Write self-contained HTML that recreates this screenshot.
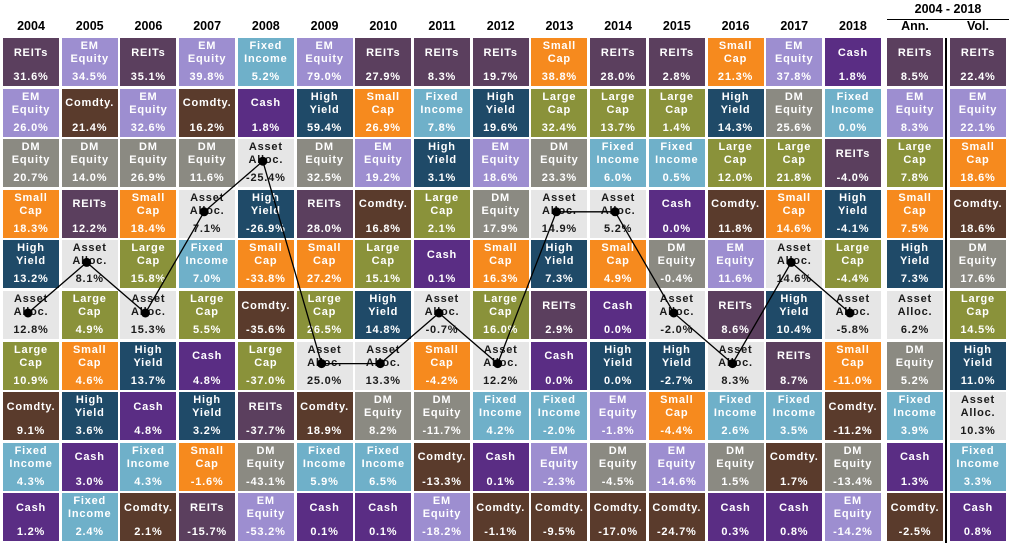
<!DOCTYPE html>
<html><head><meta charset="utf-8">
<style>
body{margin:0;background:#fff;}
#c{position:relative;width:1009px;height:543px;overflow:hidden;font-family:"Liberation Sans",Arial,sans-serif;}
.cell{position:absolute;width:56px;height:48px;color:#fff;font-weight:bold;font-size:11px;letter-spacing:0.8px;text-align:center;}
.cell .lab{position:absolute;left:0;right:0;top:0;height:30px;display:flex;align-items:center;justify-content:center;line-height:13px;}
.cell .val{position:absolute;left:0;right:0;top:33px;line-height:13px;}
.hdr{position:absolute;top:19px;width:56px;text-align:center;font-weight:bold;font-size:12.5px;color:#000;}
</style></head><body>
<div id="c">
<div style="position:absolute;left:887px;top:2px;width:122px;text-align:center;font-weight:bold;font-size:12.5px;">2004 - 2018</div>
<div style="position:absolute;left:887px;top:19px;width:122px;height:1px;background:#000;"></div>
<div style="position:absolute;left:945px;top:38px;width:2px;height:505px;background:#000;"></div>
<svg id="lines" width="1009" height="543" style="position:absolute;left:0;top:0;z-index:2;pointer-events:none"></svg>
</div>
<script>
const years=["2004","2005","2006","2007","2008","2009","2010","2011","2012","2013","2014","2015","2016","2017","2018"];
const colOrder=[
["REITs","EM","DM","Small","HY","AA","Large","Comdty","FI","Cash"],
["EM","Comdty","DM","REITs","AA","Large","Small","HY","Cash","FI"],
["REITs","EM","DM","Small","Large","AA","HY","Cash","FI","Comdty"],
["EM","Comdty","DM","AA","FI","Large","Cash","HY","Small","REITs"],
["FI","Cash","AA","HY","Small","Comdty","Large","REITs","DM","EM"],
["EM","HY","DM","REITs","Small","Large","AA","Comdty","FI","Cash"],
["REITs","Small","EM","Comdty","Large","HY","AA","DM","FI","Cash"],
["REITs","FI","HY","Large","Cash","AA","Small","DM","Comdty","EM"],
["REITs","HY","EM","DM","Small","Large","AA","FI","Cash","Comdty"],
["Small","Large","DM","AA","HY","REITs","Cash","FI","EM","Comdty"],
["REITs","Large","FI","AA","Small","Cash","HY","EM","DM","Comdty"],
["REITs","Large","FI","Cash","DM","AA","HY","Small","EM","Comdty"],
["Small","HY","Large","Comdty","EM","REITs","AA","FI","DM","Cash"],
["EM","DM","Large","Small","AA","HY","REITs","FI","Comdty","Cash"],
["Cash","FI","REITs","HY","Large","AA","Small","Comdty","DM","EM"]];
const colValues=[
[31.6,26.0,20.7,18.3,13.2,12.8,10.9,9.1,4.3,1.2],
[34.5,21.4,14.0,12.2,8.1,4.9,4.6,3.6,3.0,2.4],
[35.1,32.6,26.9,18.4,15.8,15.3,13.7,4.8,4.3,2.1],
[39.8,16.2,11.6,7.1,7.0,5.5,4.8,3.2,-1.6,-15.7],
[5.2,1.8,-25.4,-26.9,-33.8,-35.6,-37.0,-37.7,-43.1,-53.2],
[79.0,59.4,32.5,28.0,27.2,26.5,25.0,18.9,5.9,0.1],
[27.9,26.9,19.2,16.8,15.1,14.8,13.3,8.2,6.5,0.1],
[8.3,7.8,3.1,2.1,0.1,-0.7,-4.2,-11.7,-13.3,-18.2],
[19.7,19.6,18.6,17.9,16.3,16.0,12.2,4.2,0.1,-1.1],
[38.8,32.4,23.3,14.9,7.3,2.9,0.0,-2.0,-2.3,-9.5],
[28.0,13.7,6.0,5.2,4.9,0.0,0.0,-1.8,-4.5,-17.0],
[2.8,1.4,0.5,0.0,-0.4,-2.0,-2.7,-4.4,-14.6,-24.7],
[21.3,14.3,12.0,11.8,11.6,8.6,8.3,2.6,1.5,0.3],
[37.8,25.6,21.8,14.6,14.6,10.4,8.7,3.5,1.7,0.8],
[1.8,0.0,-4.0,-4.1,-4.4,-5.8,-11.0,-11.2,-13.4,-14.2]];
const annOrder=["REITs","EM","Large","Small","HY","AA","DM","FI","Cash","Comdty"];
const annValues=[8.5,8.3,7.8,7.5,7.3,6.2,5.2,3.9,1.3,-2.5];
const volOrder=["REITs","EM","Small","Comdty","DM","Large","HY","AA","FI","Cash"];
const volValues=[22.4,22.1,18.6,18.6,17.6,14.5,11.0,10.3,3.3,0.8];
const assets={
 REITs:{n:"REITs",c:"#5b3f5e",t:"#fff"},
 EM:{n:"EM<br>Equity",c:"#9d8ed0",t:"#fff"},
 DM:{n:"DM<br>Equity",c:"#8b8a82",t:"#fff"},
 Small:{n:"Small<br>Cap",c:"#f68a1e",t:"#fff"},
 HY:{n:"High<br>Yield",c:"#1f4a68",t:"#fff"},
 AA:{n:"Asset<br>Alloc.",c:"#e6e6e6",t:"#1a1a1a"},
 Large:{n:"Large<br>Cap",c:"#8a923a",t:"#fff"},
 Comdty:{n:"Comdty.",c:"#5a3b2c",t:"#fff"},
 FI:{n:"Fixed<br>Income",c:"#6fb0c9",t:"#fff"},
 Cash:{n:"Cash",c:"#5a2d84",t:"#fff"}};
const root=document.getElementById('c');
const colX=i=>3+i*58.71;
const rowY=r=>38+r*50.6;
function addCell(x,y,key,v,name){
 const a=assets[key];
 const d=document.createElement('div');
 d.className='cell';
 
 
 d.style.left=x+'px';d.style.top=y+'px';d.style.background=a.c;d.style.color=a.t;
 d.innerHTML='<div class="lab">'+a.n+'</div><div class="val">'+v.toFixed(1)+'%</div>';
 root.appendChild(d);
}
function addHdr(x,txt,name){
 const h=document.createElement('div');
 h.className='hdr';
 
 
 h.style.left=x+'px';h.textContent=txt;root.appendChild(h);
}
const pts=[];
years.forEach((yr,i)=>{
 addHdr(colX(i),yr,'year-header-'+yr);
 colOrder[i].forEach((k,r)=>{
  addCell(colX(i),rowY(r),k,colValues[i][r],'cell-'+yr+'-'+k.toLowerCase());
  if(k==="AA")pts.push([colX(i)+25,rowY(r)+22]);
 });
});
addHdr(887,'Ann.','ann-header');
addHdr(950,'Vol.','vol-header');
annOrder.forEach((k,r)=>addCell(887,rowY(r),k,annValues[r],'ann-'+k.toLowerCase()));
volOrder.forEach((k,r)=>addCell(950,rowY(r),k,volValues[r],'vol-'+k.toLowerCase()));
const svg=document.getElementById('lines');
const NS='http://www.w3.org/2000/svg';
const pl=document.createElementNS(NS,'polyline');


pl.setAttribute('points',pts.map(p=>p.join(',')).join(' '));
pl.setAttribute('fill','none');pl.setAttribute('stroke','#000');pl.setAttribute('stroke-width','1.3');
svg.appendChild(pl);
pts.forEach((p,i)=>{
 const c=document.createElementNS(NS,'circle');
 
 
 c.setAttribute('cx',p[0]);c.setAttribute('cy',p[1]);c.setAttribute('r','4.5');c.setAttribute('fill','#000');
 svg.appendChild(c);
});
</script>
</body></html>
